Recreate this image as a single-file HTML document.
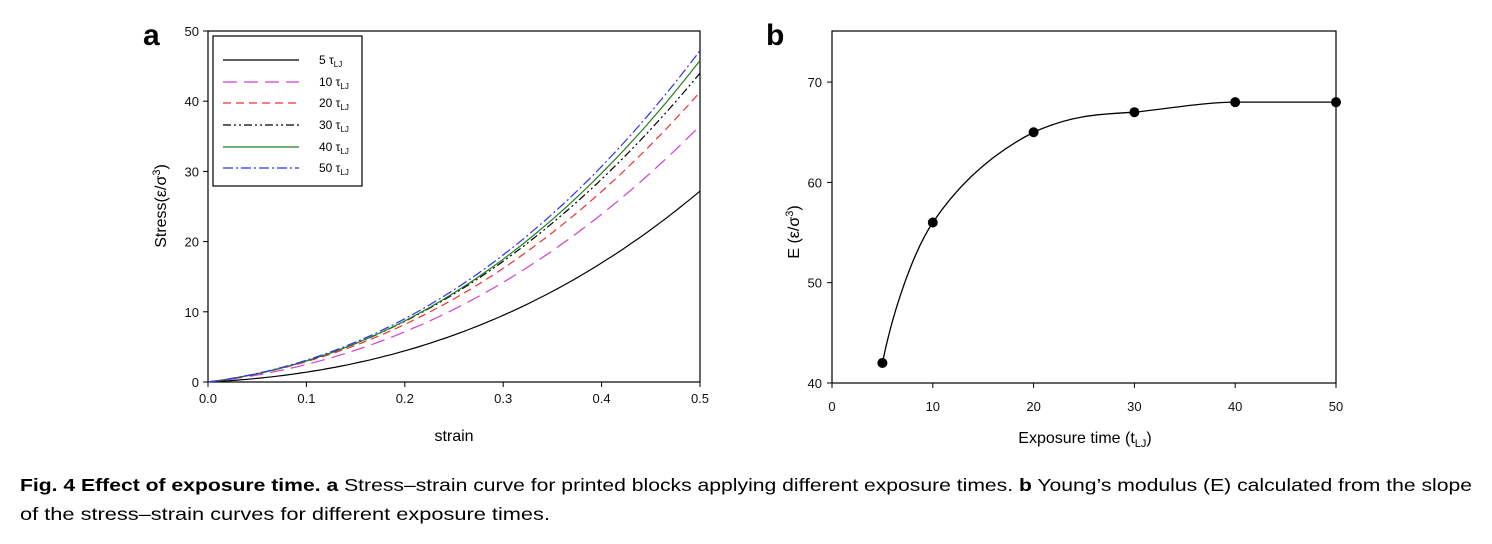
<!DOCTYPE html>
<html><head><meta charset="utf-8"><style>
html,body{margin:0;padding:0;background:#fff;width:1492px;height:544px;overflow:hidden}
svg text{font-family:"Liberation Sans",Arial,sans-serif}
</style></head><body>
<svg id="s" width="1492" height="544" xmlns="http://www.w3.org/2000/svg">
<text x="143" y="45" font-size="30" font-weight="bold">a</text>
<text x="766" y="45" font-size="30" font-weight="bold">b</text>
<rect x="208" y="31" width="492" height="351" fill="none" stroke="#000" stroke-width="1.2"/>
<g id="ta" font-size="13" fill="#111"></g>
<g id="curves" fill="none" stroke-width="1.2"></g>
<rect x="213" y="36" width="149" height="150" fill="#fff" stroke="#000" stroke-width="1.2"/>
<g stroke-width="1.3">
<line x1="223" y1="60" x2="299" y2="60" stroke="#000"/>
<line x1="223" y1="82" x2="299" y2="82" stroke="#d040d0" stroke-dasharray="14,7"/>
<line x1="223" y1="103" x2="299" y2="103" stroke="#f03030" stroke-dasharray="8,5"/>
<line x1="223" y1="125" x2="299" y2="125" stroke="#000" stroke-dasharray="8,3,2,3,2,3"/>
<line x1="223" y1="147" x2="299" y2="147" stroke="#208020"/>
<line x1="223" y1="168" x2="299" y2="168" stroke="#3030f0" stroke-dasharray="10,3,2,3"/>
</g>
<g font-size="12">
<text x="319" y="64">5 τ<tspan font-size="8" dy="3">LJ</tspan></text>
<text x="319" y="86">10 τ<tspan font-size="8" dy="3">LJ</tspan></text>
<text x="319" y="107">20 τ<tspan font-size="8" dy="3">LJ</tspan></text>
<text x="319" y="129">30 τ<tspan font-size="8" dy="3">LJ</tspan></text>
<text x="319" y="151">40 τ<tspan font-size="8" dy="3">LJ</tspan></text>
<text x="319" y="172">50 τ<tspan font-size="8" dy="3">LJ</tspan></text>
</g>
<text transform="translate(166,206) rotate(-90)" font-size="16" text-anchor="middle">Stress(ε/σ<tspan font-size="11" dy="-6">3</tspan><tspan dy="6">)</tspan></text>
<text x="454" y="441" font-size="16" text-anchor="middle">strain</text>
<rect x="832" y="31" width="504" height="352" fill="none" stroke="#000" stroke-width="1.2"/>
<g id="tb" font-size="13" fill="#111"></g>
<path id="bc" fill="none" stroke="#000" stroke-width="1.3"/>
<g id="pts"></g>
<text transform="translate(799,232) rotate(-90)" font-size="16" text-anchor="middle">E (ε/σ<tspan font-size="11" dy="-6">3</tspan><tspan dy="6">)</tspan></text>
<text x="1085" y="443" font-size="16" text-anchor="middle">Exposure time (t<tspan font-size="11" dy="4">LJ</tspan><tspan dy="-4">)</tspan></text>
<text x="20" y="491" font-size="17.5" textLength="1452" lengthAdjust="spacingAndGlyphs"><tspan font-weight="bold">Fig. 4 Effect of exposure time. a</tspan> Stress–strain curve for printed blocks applying different exposure times. <tspan font-weight="bold">b</tspan> Young’s modulus (E) calculated from the slope</text>
<text x="20" y="520" font-size="17.5" textLength="530" lengthAdjust="spacingAndGlyphs">of the stress–strain curves for different exposure times.</text>
</svg>
<script>
var NS="http://www.w3.org/2000/svg";
function el(p,t,a,txt){var e=document.createElementNS(NS,t);for(var k in a)e.setAttribute(k,a[k]);if(txt!==undefined)e.textContent=txt;p.appendChild(e);return e;}
var ta=document.getElementById('ta');
function ax(x){return 208+x/0.5*492} function ay(y){return 382-y*7.02}
for(var i=0;i<=5;i++){var x=ax(i*0.1);el(ta,'line',{x1:x,y1:382,x2:x,y2:387,stroke:'#000'});el(ta,'text',{x:x,y:403,'text-anchor':'middle'},(i/10).toFixed(1));}
for(var i=0;i<=50;i+=10){var y=ay(i);el(ta,'line',{x1:203,y1:y,x2:208,y2:y,stroke:'#000'});el(ta,'text',{x:199,y:y+5,'text-anchor':'end'},i);}
function solve(y1,y3,y5){var X=[0.1,0.3,0.5],Y=[y1,y3,y5];var M=X.map(function(x,i){return [x,x*x,x*x*x,Y[i]]});
for(var c=0;c<3;c++){for(var r=c+1;r<3;r++){var f=M[r][c]/M[c][c];for(var k=c;k<4;k++)M[r][k]-=f*M[c][k];}}
var s=[0,0,0];for(var r=2;r>=0;r--){var v=M[r][3];for(var k=r+1;k<3;k++)v-=M[r][k]*s[k];s[r]=v/M[r][r];}return s;}
var cs=[[1.4,9.5,27.2,'#000',''],[2.5,14.2,36.5,'#d040d0','14,7'],[2.9,16.2,41.3,'#f03030','8,5'],[3.0,17.2,44,'#000','8,3,2,3,2,3'],[3.0,17.5,45.8,'#208020',''],[3.1,18.1,47.2,'#3030f0','10,3,2,3']];
var g=document.getElementById('curves');
cs.forEach(function(c){var s=solve(c[0],c[1],c[2]);var d='';for(var i=0;i<=100;i++){var x=i*0.005;var y=s[0]*x+s[1]*x*x+s[2]*x*x*x;d+=(i?'L':'M')+ax(x).toFixed(1)+','+ay(y).toFixed(1);}
var a={d:d,stroke:c[3]};if(c[4])a['stroke-dasharray']=c[4];el(g,'path',a);});
var tb=document.getElementById('tb');
function bx(x){return 832+x*10.08} function by(y){return 383-(y-40)*10.03}
for(var i=0;i<=50;i+=10){var x=bx(i);el(tb,'line',{x1:x,y1:383,x2:x,y2:388,stroke:'#000'});el(tb,'text',{x:x,y:411,'text-anchor':'middle'},i);}
for(var i=40;i<=70;i+=10){var y=by(i);el(tb,'line',{x1:827,y1:y,x2:832,y2:y,stroke:'#000'});el(tb,'text',{x:822,y:y+5,'text-anchor':'end'},i);}
var P=[[5,42],[10,56],[20,65],[30,67],[40,68],[50,68]].map(function(p){return [bx(p[0]),by(p[1])]});
var d='M'+P[0][0]+','+P[0][1];
d+=' C'+bx(6)+','+by(47)+' '+bx(8)+','+by(53)+' '+P[1].join(',');
d+=' C'+bx(13)+','+by(60.5)+' '+bx(16.5)+','+by(63.2)+' '+P[2].join(',');
d+=' C'+bx(23.5)+','+by(66.6)+' '+bx(26)+','+by(66.8)+' '+P[3].join(',');
d+=' C'+bx(33)+','+by(67.3)+' '+bx(37)+','+by(68)+' '+P[4].join(',');
d+=' L'+bx(48)+','+by(68)+' L'+P[5].join(',');
document.getElementById('bc').setAttribute('d',d);
var pts=document.getElementById('pts');P.forEach(function(p){el(pts,'circle',{cx:p[0],cy:p[1],r:5,fill:'#000'});});
</script>
</body></html>
